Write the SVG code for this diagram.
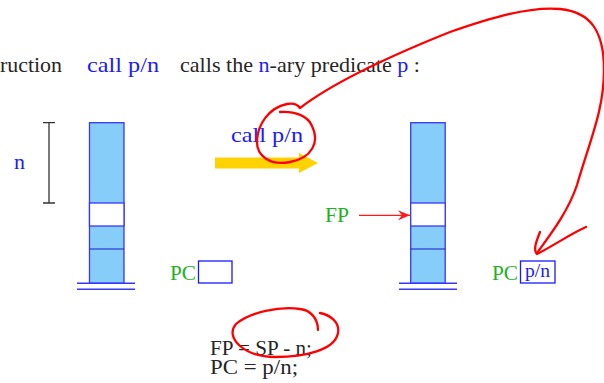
<svg xmlns="http://www.w3.org/2000/svg" width="604" height="383" viewBox="0 0 604 383">
<style>
text{font-family:"Liberation Serif","Times New Roman",serif;font-size:22px}
.blk{fill:#262626}
.blu{fill:#1a1aff}
.grn{fill:#1db31d}
.code{font-size:20px}
.cell{fill:#87cdfa;stroke:#3636ff;stroke-width:1.3}
.wcell{fill:#ffffff;stroke:#3636ff;stroke-width:1.3}
.sep{stroke:#1a1acc;stroke-width:1.2}
.base{stroke:#3636ff;stroke-width:1.5}
.box{fill:#ffffff;stroke:#1a1aff;stroke-width:1.3}
.ink{fill:none;stroke:#ff0000;stroke-width:2.3;stroke-linecap:round;stroke-linejoin:round}
</style>
<defs>
<marker id="redhead" viewBox="0 0 12 10" refX="12" refY="5" markerWidth="12" markerHeight="10" markerUnits="userSpaceOnUse" orient="auto">
<path d="M0 0 L12 5 L0 10 L4 5 Z" fill="#ff1a1a"/>
</marker>
</defs>

<g id="title">
<text class="blk" x="0" y="72" textLength="62" lengthAdjust="spacingAndGlyphs">ruction</text>
<text class="blu" x="87" y="72" textLength="72" lengthAdjust="spacingAndGlyphs">call p/n</text>
<text x="180" y="72" textLength="240" lengthAdjust="spacingAndGlyphs"><tspan class="blk">calls the </tspan><tspan class="blu">n</tspan><tspan class="blk">-ary predicate </tspan><tspan class="blu">p</tspan><tspan class="blk"> :</tspan></text>
</g>

<g id="n-bracket">
<text class="blu" x="14" y="169">n</text>
<path d="M49 122.7 V203 M43 122.7 H55 M43 203 H55" stroke="#333" stroke-width="1.3" fill="none"/>
</g>

<g id="stack-left">
<rect class="cell" x="89.5" y="122.7" width="34.5" height="160.6"/>
<rect class="wcell" x="89.5" y="203" width="34.5" height="23"/>
<line class="sep" x1="89.5" y1="249" x2="124" y2="249"/>
<line class="base" x1="77" y1="283.3" x2="135" y2="283.3"/>
<line class="base" x1="77" y1="289.3" x2="135" y2="289.3"/>
</g>

<g id="pc-left">
<text class="grn" x="170" y="280" textLength="26" lengthAdjust="spacingAndGlyphs">PC</text>
<rect class="box" x="198.5" y="261" width="33.5" height="22"/>
</g>

<g id="call-label">
<text class="blu" x="231" y="142" textLength="72" lengthAdjust="spacingAndGlyphs">call p/n</text>
</g>

<g id="stack-right">
<rect class="cell" x="410.7" y="122.7" width="34.5" height="160.6"/>
<rect class="wcell" x="410.7" y="203" width="34.5" height="23"/>
<line class="sep" x1="410.7" y1="249" x2="445.2" y2="249"/>
<line class="base" x1="399" y1="283.3" x2="457" y2="283.3"/>
<line class="base" x1="399" y1="289.3" x2="457" y2="289.3"/>
</g>

<g id="fp-label">
<text class="grn" x="325" y="222" textLength="24" lengthAdjust="spacingAndGlyphs">FP</text>
</g>

<g id="pc-right">
<text class="grn" x="492" y="280" textLength="26" lengthAdjust="spacingAndGlyphs">PC</text>
<rect class="box" x="520.5" y="261" width="34.5" height="22"/>
<text class="blu" x="525" y="277" style="font-size:19px" textLength="25" lengthAdjust="spacingAndGlyphs">p/n</text>
</g>

<g id="code">
<text class="blk code" x="210" y="355" textLength="102" lengthAdjust="spacingAndGlyphs">FP = SP - n;</text>
<text class="blk code" x="210" y="374" textLength="88" lengthAdjust="spacingAndGlyphs">PC = p/n;</text>
</g>

<g id="connectors">
<polygon points="215,157.5 299,157.5 299,153 318,163 299,173 299,168.5 215,168.5" fill="#ffd200"/>
<line x1="359" y1="215.3" x2="410" y2="215.3" stroke="#ff1a1a" stroke-width="1.3" marker-end="url(#redhead)"/>
<path class="ink" d="M280 112 C295 111 308 116 312 126 C320 142 312 158 290 162 C270 166 256 156 257 140 C258 125 268 108 287 104 C293 103 298 105 300 108 C330 85 380 60 450 32 C490 18 530 6 560 9 C590 12 604 30 604 70 C604 110 590 140 577 185 C568 212 550 235 537 253"/>
<path class="ink" d="M540 232 C536 242 533 250 537 254 C555 245 570 234 586 227"/>
<path class="ink" d="M318 330 C318 318 310 310 300 309 C280 306 250 312 236 324 C224 338 245 357 275 357 C305 357 335 350 338 333 C340 322 330 315 320 313"/>
</g>
</svg>
